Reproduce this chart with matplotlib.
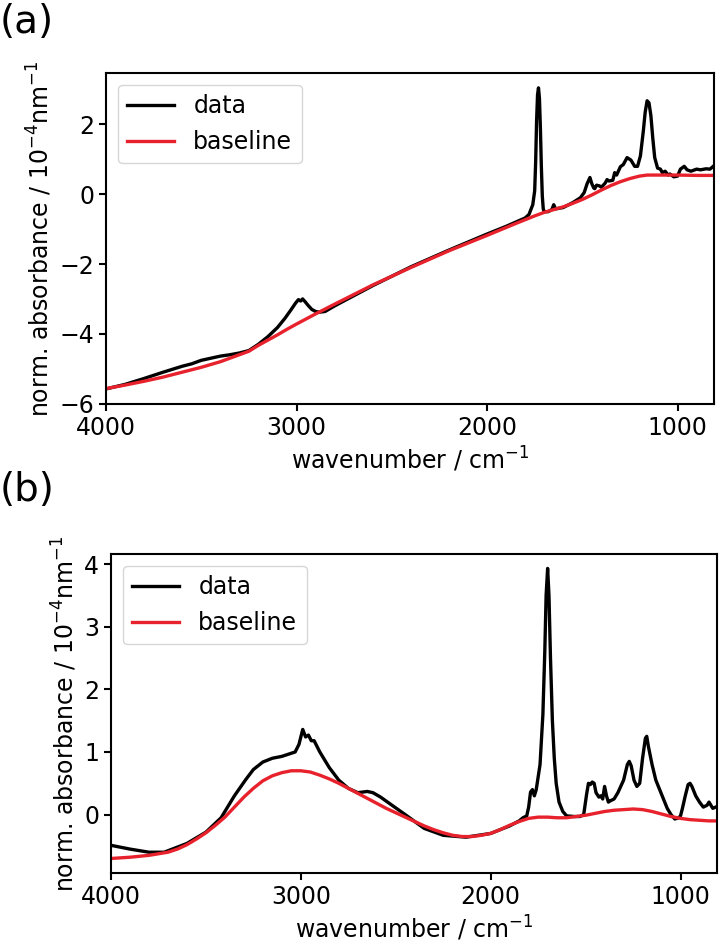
import numpy as np
import matplotlib.pyplot as plt

# panel (a): raw spectrum and fitted baseline
wn_a = [4000, 3900, 3800, 3700, 3600, 3550, 3500, 3450, 3400, 3350, 3300, 3250,
        3200, 3150, 3100, 3060, 3030, 3005, 2990, 2978, 2968, 2955, 2940, 2920, 2900,
        2880, 2850, 2800, 2600, 2400, 2200, 2000, 1900, 1850, 1800, 1780, 1760,
        1750, 1745, 1740, 1735, 1730, 1725, 1720, 1715, 1710, 1705, 1700, 1680,
        1660, 1650, 1640, 1600, 1550, 1510, 1490, 1475, 1460, 1450, 1440, 1435,
        1425, 1410, 1400, 1380, 1370, 1360, 1340, 1330, 1320, 1300, 1285, 1265,
        1245, 1225, 1210, 1195, 1180, 1170, 1160, 1150, 1140, 1130, 1120, 1105,
        1090, 1080, 1065, 1050, 1040, 1020, 1000, 985, 965, 950, 930, 900, 880,
        850, 830, 815]
data_a = [-5.58, -5.45, -5.28, -5.10, -4.93, -4.86, -4.76, -4.70, -4.64, -4.60, -4.55, -4.48,
          -4.30, -4.08, -3.82, -3.55, -3.32, -3.12, -3.02, -3.06, -3.00, -3.08, -3.18, -3.30, -3.36,
          -3.38, -3.36, -3.20, -2.62, -2.08, -1.60, -1.14, -0.92, -0.80, -0.68, -0.58, -0.30,
          0.10, 0.90, 2.10, 2.85, 3.05, 2.75, 1.90, 0.80, -0.05, -0.42, -0.50, -0.50,
          -0.44, -0.30, -0.42, -0.38, -0.24, -0.10, 0.05, 0.30, 0.48, 0.30, 0.18, 0.16,
          0.26, 0.24, 0.20, 0.32, 0.42, 0.38, 0.40, 0.62, 0.55, 0.79, 0.85, 1.05,
          0.98, 0.80, 0.80, 1.10, 1.80, 2.35, 2.68, 2.62, 2.25, 1.60, 1.05, 0.75,
          0.72, 0.62, 0.66, 0.55, 0.58, 0.50, 0.52, 0.72, 0.80, 0.70, 0.66, 0.72, 0.70,
          0.73, 0.72, 0.79]
wn_a_base = [4000, 3900, 3800, 3700, 3600, 3500, 3400, 3320, 3250, 3200, 3150, 3100,
             3050, 3000, 2900, 2800, 2600, 2400, 2200, 2000, 1850, 1750, 1700, 1650,
             1600, 1550, 1500, 1450, 1400, 1350, 1300, 1250, 1200, 1160, 1100, 1000, 900, 815]
base_a = [-5.57, -5.47, -5.36, -5.24, -5.10, -4.96, -4.80, -4.64, -4.50, -4.33, -4.18, -4.03,
          -3.87, -3.72, -3.43, -3.15, -2.60, -2.10, -1.62, -1.18, -0.84, -0.62, -0.52, -0.44,
          -0.36, -0.26, -0.15, -0.02, 0.12, 0.25, 0.36, 0.45, 0.52, 0.55, 0.55, 0.55, 0.54, 0.54]

# panel (b): processed spectrum and baseline
wn_b = [4000, 3900, 3800, 3720, 3600, 3500, 3420, 3350, 3290, 3250, 3200, 3150,
        3100, 3060, 3030, 3010, 2990, 2975, 2960, 2945, 2930, 2900, 2880, 2850,
        2800, 2750, 2700, 2650, 2620, 2580, 2520, 2450, 2350, 2250, 2130, 2000,
        1900, 1850, 1830, 1810, 1800, 1790, 1780, 1770, 1760, 1740, 1725, 1715,
        1708, 1700, 1693, 1685, 1675, 1665, 1655, 1640, 1620, 1600, 1560, 1530,
        1510, 1495, 1485, 1475, 1465, 1455, 1445, 1430, 1420, 1410, 1400, 1390,
        1380, 1370, 1350, 1330, 1300, 1280, 1270, 1260, 1245, 1230, 1215, 1200,
        1185, 1178, 1170, 1150, 1130, 1110, 1090, 1070, 1050, 1030, 1010, 1000,
        990, 975, 960, 950, 940, 920, 900, 880, 860, 850, 840, 830, 815]
data_b = [-0.49, -0.55, -0.60, -0.60, -0.46, -0.28, -0.05, 0.30, 0.56, 0.72, 0.84, 0.90,
          0.93, 0.97, 1.00, 1.12, 1.36, 1.24, 1.27, 1.18, 1.18, 1.00, 0.90, 0.75,
          0.55, 0.42, 0.35, 0.37, 0.35, 0.28, 0.15, 0.00, -0.22, -0.33, -0.36, -0.30,
          -0.18, -0.10, -0.05, -0.02, 0.12, 0.36, 0.40, 0.30, 0.40, 0.80, 1.60, 2.60,
          3.50, 3.93, 3.50, 2.50, 1.50, 0.90, 0.50, 0.20, 0.05, -0.02, -0.03, -0.03,
          0.00, 0.32, 0.50, 0.48, 0.52, 0.50, 0.35, 0.28, 0.30, 0.25, 0.45, 0.30,
          0.20, 0.22, 0.25, 0.35, 0.55, 0.80, 0.85, 0.78, 0.55, 0.45, 0.50, 0.90,
          1.22, 1.25, 1.10, 0.80, 0.55, 0.40, 0.25, 0.10, 0.00, -0.07, -0.05, -0.02,
          0.10, 0.30, 0.48, 0.50, 0.45, 0.30, 0.20, 0.12, 0.15, 0.20, 0.15, 0.10, 0.12]
wn_b_base = [4000, 3900, 3800, 3700, 3650, 3600, 3550, 3500, 3450, 3400, 3350, 3300,
             3250, 3200, 3150, 3100, 3050, 3000, 2950, 2900, 2850, 2800, 2750, 2700,
             2650, 2600, 2550, 2500, 2450, 2400, 2350, 2300, 2250, 2200, 2150, 2100,
             2050, 2000, 1950, 1900, 1850, 1800, 1750, 1700, 1650, 1600, 1550, 1500,
             1450, 1400, 1350, 1300, 1250, 1200, 1150, 1100, 1050, 1000, 950, 900, 850, 815]
base_b = [-0.70, -0.68, -0.65, -0.60, -0.55, -0.48, -0.39, -0.29, -0.17, -0.04, 0.12, 0.28,
          0.42, 0.54, 0.62, 0.67, 0.70, 0.70, 0.68, 0.63, 0.57, 0.50, 0.42, 0.34,
          0.26, 0.18, 0.10, 0.03, -0.04, -0.11, -0.18, -0.24, -0.29, -0.33, -0.35, -0.35,
          -0.33, -0.30, -0.24, -0.17, -0.11, -0.06, -0.04, -0.04, -0.05, -0.05, -0.03, -0.01,
          0.02, 0.05, 0.07, 0.08, 0.09, 0.08, 0.05, 0.01, -0.03, -0.06, -0.08, -0.09, -0.10, -0.10]

RED = '#e8222c'
plt.rcParams['font.size'] = 17

fig = plt.figure(figsize=(7.24, 9.49), dpi=100)
ax1 = fig.add_axes([0.1464, 0.5743, 0.8400, 0.3490])
ax2 = fig.add_axes([0.1533, 0.0801, 0.8370, 0.3362])

for ax, wx, dy, wb, by in [(ax1, wn_a, data_a, wn_a_base, base_a),
                           (ax2, wn_b, data_b, wn_b_base, base_b)]:
    ax.plot(wx, dy, color='black', lw=2.4, label='data')
    ax.plot(wb, by, color=RED, lw=2.4, label='baseline')
    ax.set_xlim(4000, 808)
    ax.set_xticks([4000, 3000, 2000, 1000])
    ax.set_xlabel('wavenumber / cm$^{-1}$')
    ax.set_ylabel('norm. absorbance / 10$^{-4}$nm$^{-1}$')
    ax.tick_params(length=5, width=1.5)
    for s in ax.spines.values():
        s.set_linewidth(1.5)
    ax.legend(loc='upper left')

ax1.set_yticks([-6, -4, -2, 0, 2])

fig.text(0.0, 0.977, '(a)', fontsize=28, va='center', ha='left')
fig.text(0.0, 0.484, '(b)', fontsize=28, va='center', ha='left')

fig.savefig('out.png', dpi=100)
plt.close(fig)
